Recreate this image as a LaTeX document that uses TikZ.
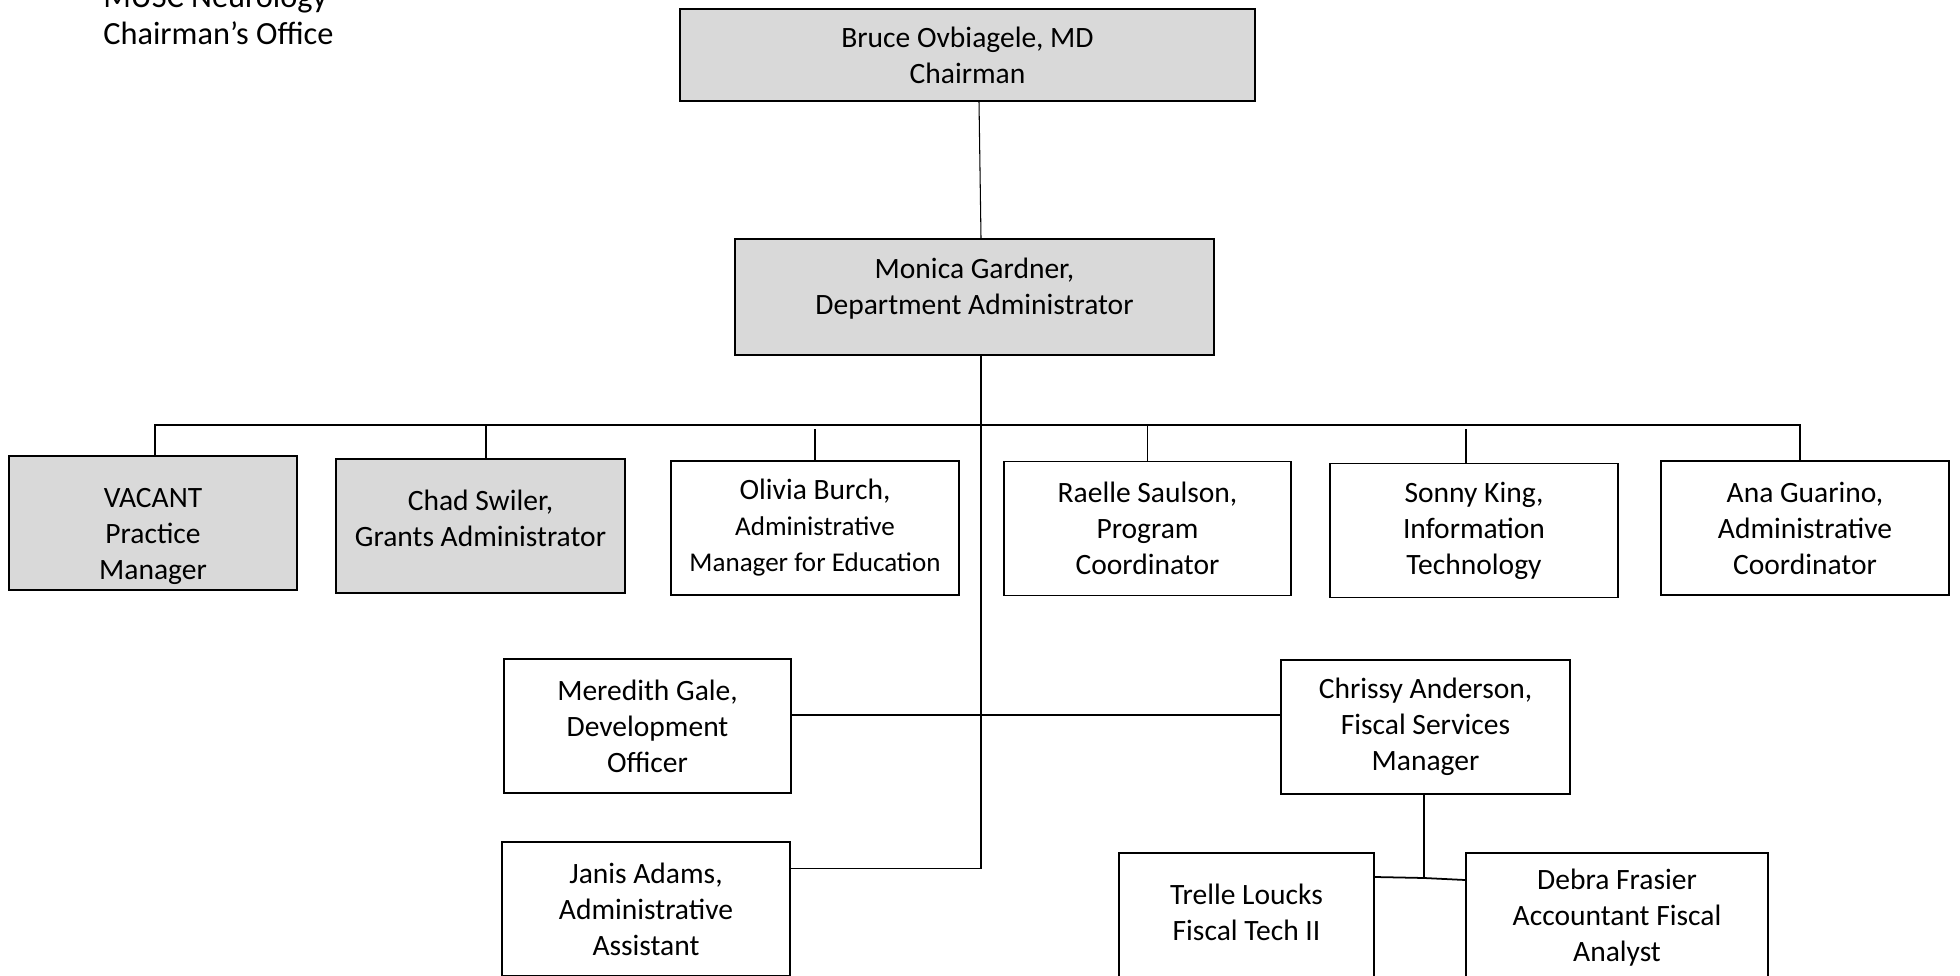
\documentclass[tikz,border=0pt]{standalone}
\usepackage{fontspec}
\setmainfont{Carlito}
\usepackage{xcolor}
\usepackage{tikz}
\definecolor{boxgray}{HTML}{D9D9D9}

\begin{document}
\begin{tikzpicture}[
    font=\fontsize{16.8}{20.5}\selectfont,
    staff/.style={draw, line width=1.1pt, align=center, inner sep=2pt,
      minimum width=5.76cm, minimum height=2.68cm},
    lead/.style={staff, fill=boxgray},
    link/.style={line width=1pt},
    thinlink/.style={line width=0.6pt}
  ]
        \useasboundingbox (0,0) rectangle (39.2,-19.52);

        \node[anchor=base west, inner sep=0, font=\fontsize{18.4}{21}\selectfont] (titleA) at (2.06,-0.16) {MUSC Neurology};
        \node[anchor=base west, inner sep=0, font=\fontsize{18.4}{21}\selectfont] (titleB) at (2.06,-0.90) {Chairman’s Office};

        \node[lead, minimum width=11.5cm, minimum height=1.84cm] (chair) at (19.35,-1.10)
          {Bruce Ovbiagele, MD\\Chairman};
        \node[lead, minimum width=9.58cm, minimum height=2.32cm] (monica) at (19.49,-5.94)
          {Monica Gardner,\\Department Administrator\\[-0.3cm]};

        \node[lead] (vacant) at (3.06,-10.46) {\mbox{}\\[0.2cm]VACANT\\ Practice\\Manager};
        \node[lead, minimum width=5.78cm] (chad) at (9.61,-10.52) {Chad Swiler,\\Grants Administrator\\[-0.42cm]};
        \node[staff] (olivia) at (16.30,-10.56)
          {Olivia Burch,\\{\fontsize{15.4}{18.5}\selectfont Administrative}\\{\fontsize{15.4}{18.5}\selectfont Manager for Education}};
        \node[staff, minimum width=5.74cm] (raelle) at (22.95,-10.57) {Raelle Saulson,\\Program\\Coordinator};
        \node[staff] (sonny) at (29.48,-10.61) {Sonny King,\\Information\\Technology};
        \node[staff] (ana) at (36.10,-10.56) {Ana Guarino,\\Administrative\\Coordinator};

        \node[staff, minimum width=5.74cm] (meredith) at (12.95,-14.52) {Meredith Gale,\\Development\\Officer};
        \node[staff, minimum width=5.78cm] (chrissy) at (28.51,-14.54) {Chrissy Anderson,\\Fiscal Services\\Manager};
        \node[staff] (janis) at (12.92,-18.18) {Janis Adams,\\Administrative\\Assistant};
        \node[staff, minimum width=5.10cm] (trelle) at (24.93,-18.40) {Trelle Loucks\\Fiscal Tech II\\[-0.4cm]};
        \node[staff, minimum width=6.04cm] (debra) at (32.34,-18.40) {Debra Frasier\\Accountant Fiscal\\Analyst\\[-0.52cm]};

        % chairman down to the department administrator
        \coordinate (bus) at (19.62,-8.5);
        \coordinate (trunk) at (19.62,-17.37);
        \draw[thinlink] (chair.south -| 19.58,0) -- (monica.north -| bus);
        \draw[link] (monica.south -| bus) -- (trunk);

        % first row
        \draw[link] ([xshift=0.4mm]vacant.north) |- (bus) -| ([xshift=-1mm]ana.north);
        \draw[thinlink] ([xshift=1.1mm]chad.north) -- ([xshift=1.1mm]chad.north |- bus);
        \draw[thinlink] (olivia.north) -- ([yshift=-0.8mm]olivia.north |- bus);
        \draw[link] (raelle.north) -- (raelle.north |- bus);
        \draw[thinlink] ([xshift=-1.6mm]sonny.north) -- ([xshift=-1.6mm, yshift=-0.8mm]sonny.north |- bus);

        % second and third rows
        \draw[link] ([yshift=2.2mm]meredith.east) -- ([yshift=2.4mm]chrissy.west);
        \draw[link] (janis.east |- trunk) -- (trunk);

        % fiscal staff
        \coordinate (fiscal) at (28.48,-17.56);
        \draw[link] (chrissy.south -| fiscal) -- (fiscal);
        \draw[link] ([yshift=8.6mm]trelle.east) -- (fiscal) -- ([yshift=8mm]debra.west);
      \end{tikzpicture}
\end{document}
